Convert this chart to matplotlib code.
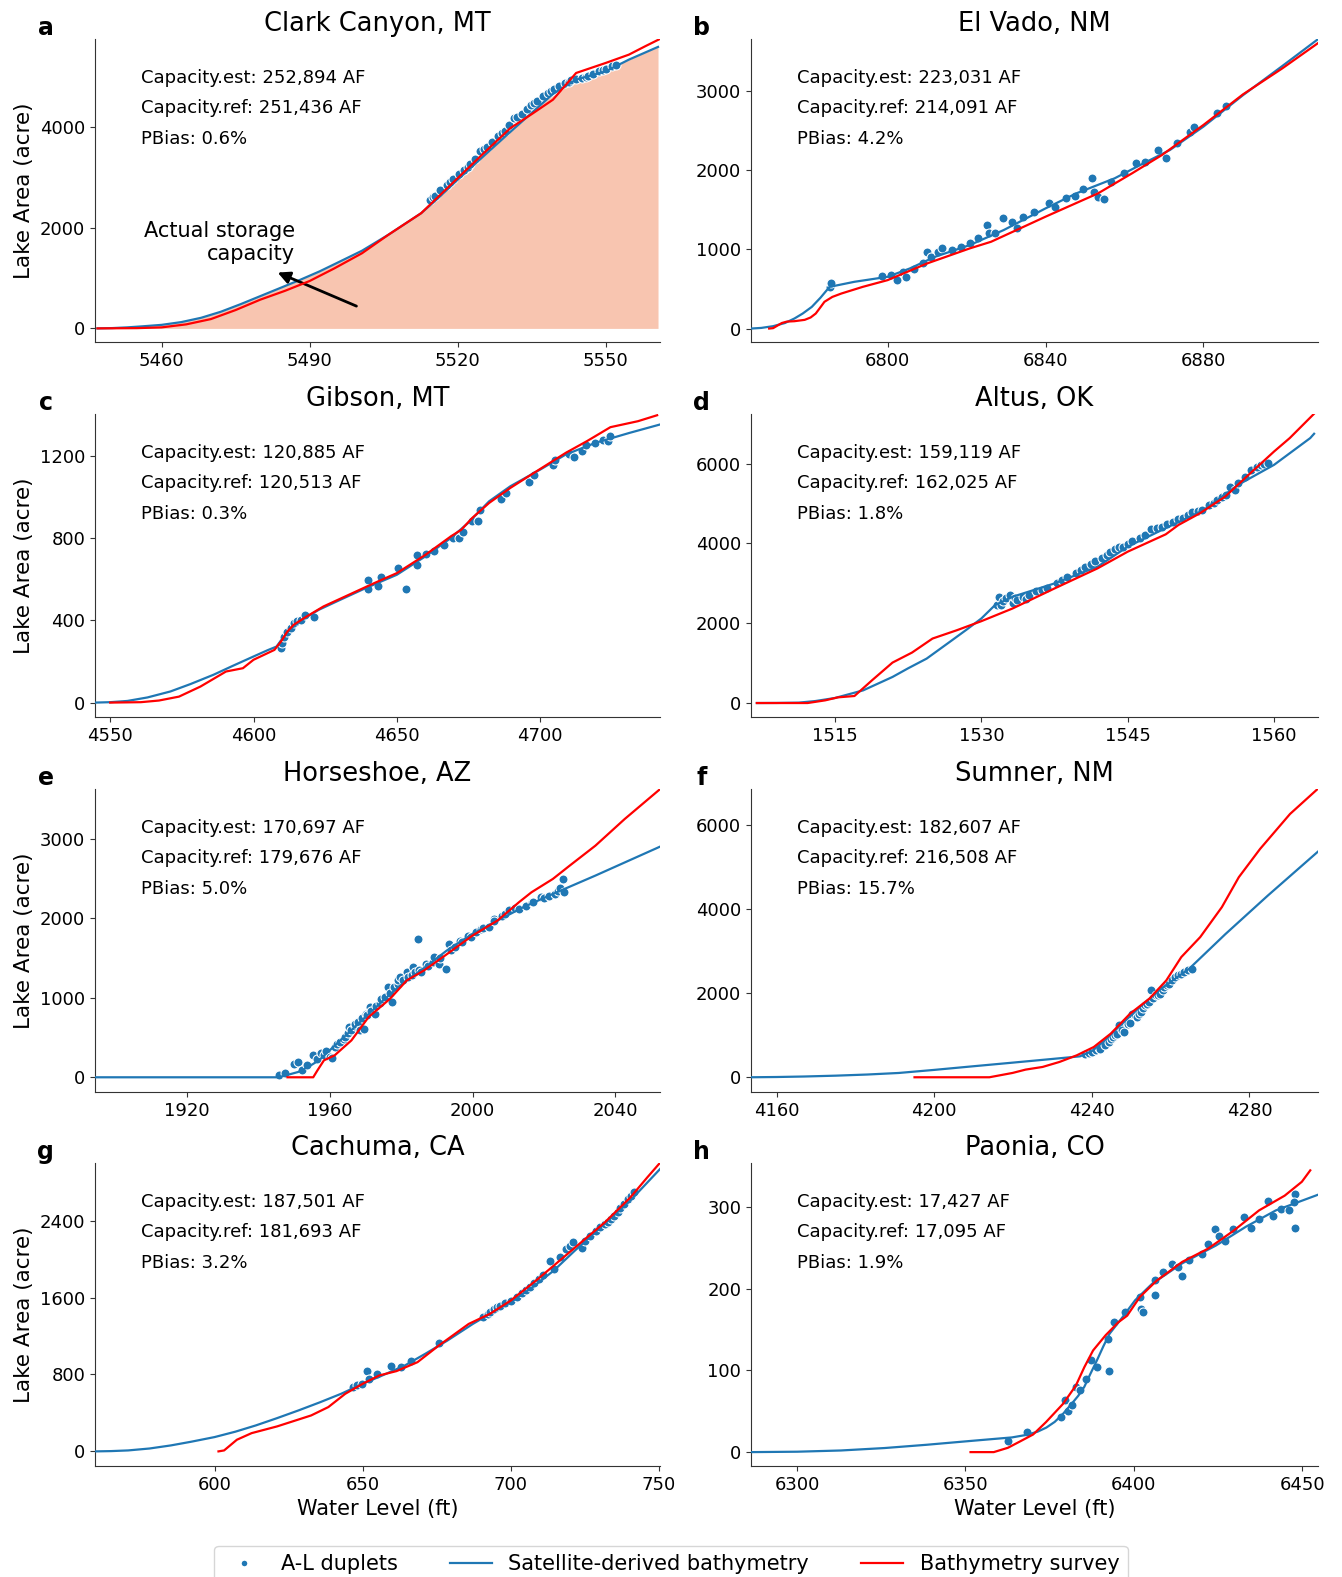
"""Lake area vs water level: satellite-derived bathymetry against survey curves."""

import matplotlib

matplotlib.use("Agg")
import matplotlib.pyplot as plt
from matplotlib.lines import Line2D
from matplotlib.ticker import MultipleLocator

BLUE = "#1f77b4"
RED = "#ff0000"
FILL = "#f8c5b0"

titles = ["Clark Canyon, MT", "El Vado, NM", "Gibson, MT", "Altus, OK",
          "Horseshoe, AZ", "Sumner, NM", "Cachuma, CA", "Paonia, CO"]
letters = ["a", "b", "c", "d", "e", "f", "g", "h"]
cap_est = [252894, 223031, 120885, 159119, 170697, 182607, 187501, 17427]
cap_ref = [251436, 214091, 120513, 162025, 179676, 216508, 181693, 17095]
pbias = [0.6, 4.2, 0.3, 1.8, 5.0, 15.7, 3.2, 1.9]

# --- a: Clark Canyon ---
a_sat_x = [5447, 5450, 5453, 5456, 5460, 5464, 5468, 5472, 5476, 5480, 5484, 5488,
           5492, 5496, 5500.6, 5506, 5512.6, 5516, 5520, 5530.7, 5539.3, 5544, 5550,
           5554.7, 5560.6]
a_sat_y = [0, 6, 20, 40, 70, 125, 210, 330, 480, 640, 800, 960,
           1130, 1320, 1540, 1860, 2285, 2580, 2950, 3900, 4650, 4934, 5099,
           5331, 5583]
a_svy_x = [5447, 5455, 5460, 5465, 5470, 5475, 5480, 5485, 5490, 5495, 5500.6, 5506,
           5512.6, 5520, 5525, 5530.7, 5535, 5539.3, 5544, 5550, 5554.7, 5558, 5561]
a_svy_y = [0, 5, 20, 80, 185, 364, 570, 745, 940, 1190, 1490, 1860,
           2285, 2980, 3450, 3974, 4250, 4536, 5066, 5265, 5430, 5596, 5742]
a_pts_x = [5514.3, 5515, 5515.5, 5516.5, 5517.8, 5518.5, 5519, 5520.2, 5521.2, 5522,
           5522.5, 5523.5, 5524.6, 5525.3, 5526, 5527, 5528.1, 5529, 5529.5, 5530.5,
           5531.5, 5532, 5533, 5534, 5534.9, 5535.5, 5536, 5537.2, 5538.4, 5538.9,
           5539.5, 5540.5, 5541.8, 5542.5, 5543, 5544, 5545.2, 5546, 5546.5, 5547.5,
           5548.7, 5549.5, 5550, 5551.2, 5552]
a_pts_y = [2550, 2600, 2620, 2740, 2848, 2900, 2960, 3060, 3146, 3200,
           3260, 3360, 3510, 3560, 3590, 3700, 3808, 3880, 3920, 4030,
           4172, 4200, 4250, 4350, 4437, 4480, 4520, 4600, 4669, 4700,
           4740, 4800, 4868, 4890, 4920, 4950, 4967, 4990, 5010, 5040,
           5099, 5130, 5150, 5199, 5230]

# --- b: El Vado ---
b_sat_x = [6765.4, 6768, 6771, 6774, 6776.4, 6778.5, 6780.8, 6783, 6785.3, 6791.6,
           6800, 6805.6, 6812, 6820.8, 6829.4, 6840, 6847.8, 6857.5, 6864, 6871.5,
           6880, 6890, 6900, 6909]
b_sat_y = [0, 8, 30, 70, 127, 190, 274, 390, 527, 591,
           654, 759, 907, 1055, 1245, 1519, 1709, 1899, 2068, 2257,
           2553, 2950, 3320, 3658]
b_svy_x = [6770, 6771, 6773.2, 6774.5, 6776.4, 6779, 6780.5, 6781.8, 6783, 6784,
           6786, 6788.3, 6793.7, 6800, 6810, 6820.8, 6826.2, 6840, 6853.3, 6861.9,
           6869.5, 6880, 6890, 6900, 6909]
b_svy_y = [0, 5, 70, 88, 93, 110, 140, 190, 270, 338,
           400, 443, 527, 612, 823, 1013, 1097, 1414, 1709, 1962,
           2194, 2574, 2960, 3290, 3608]
b_pts_x = [6785.3, 6785.6, 6798.6, 6800.8, 6802.4, 6804, 6804.6, 6806.7, 6808.9, 6810,
           6811, 6812.7, 6813.7, 6816.4, 6818.6, 6820.8, 6822.9, 6825.1, 6825.6, 6827.2,
           6829.2, 6831.6, 6832.7, 6834.3, 6837, 6840.9, 6842.5, 6845.2, 6847.4, 6849.5,
           6851.7, 6852.2, 6853.3, 6854.9, 6856.5, 6859.8, 6863, 6865.2, 6868.4, 6870.6,
           6873.3, 6876.5, 6877.6, 6883.5, 6885.7]
b_pts_y = [527, 570, 662, 675, 612, 717, 654, 759, 823, 970,
           907, 970, 1013, 992, 1034, 1076, 1139, 1308, 1203, 1203,
           1392, 1350, 1266, 1414, 1477, 1591, 1540, 1646, 1675, 1759,
           1899, 1730, 1658, 1633, 1857, 1970, 2089, 2110, 2257, 2152,
           2342, 2489, 2553, 2722, 2814]

# --- c: Gibson ---
c_sat_x = [4544.7, 4550, 4556, 4563, 4571, 4578, 4586, 4593, 4600, 4605, 4608, 4610.2,
           4613.2, 4616.9, 4622.8, 4630.2, 4639.1, 4650, 4659.9, 4668.8, 4674.8, 4682.2,
           4689.6, 4700, 4708.9, 4719.3, 4731.1, 4741.8]
c_sat_y = [0, 2, 8, 25, 54, 90, 135, 180, 224, 255, 272, 313,
           361, 402, 451, 499, 556, 621, 710, 799, 872, 978,
           1051, 1132, 1205, 1262, 1310, 1351]
c_svy_x = [4550, 4560.7, 4567, 4574, 4581.5, 4590.4, 4596.3, 4600, 4607.3, 4609.6, 4611.8,
           4614, 4618.5, 4624.4, 4633.3, 4642.2, 4650, 4660, 4668.8, 4672.5, 4676.3,
           4682.2, 4689.6, 4700, 4708.9, 4716.3, 4724.5, 4734.1, 4740.8]
c_svy_y = [0, 2, 10, 29, 78, 151, 167, 208, 256, 297, 345,
           378, 418, 467, 524, 581, 629, 718, 807, 840, 897,
           970, 1043, 1135, 1213, 1270, 1338, 1367, 1396]
c_pts_x = [4609.6, 4609.9, 4610.8, 4611.8, 4613.2, 4614, 4615.2, 4616.5, 4618, 4621,
           4639.8, 4640.1, 4643.5, 4644.5, 4650.3, 4653.2, 4656.9, 4656.9, 4660.3, 4662.8,
           4666.5, 4669.5, 4671.7, 4673.2, 4676.2, 4678.4, 4679.1, 4686.5, 4688, 4696.1,
           4698, 4704.3, 4705, 4710.2, 4711.7, 4714.7, 4715.9, 4719.2, 4721.9, 4723.6,
           4724.4]
c_pts_y = [264, 289, 321, 345, 361, 386, 394, 402, 426, 418,
           597, 553, 564, 608, 653, 553, 670, 718, 722, 738,
           767, 799, 799, 828, 880, 880, 937, 991, 1018, 1072,
           1104, 1156, 1180, 1210, 1192, 1221, 1250, 1262, 1278, 1270,
           1294]

# --- d: Altus ---
d_sat_x = [1507, 1509, 1511.3, 1513, 1515, 1517.9, 1520.9, 1522.5, 1524.4, 1527,
           1528.5, 1530, 1531.4, 1533.2, 1537.5, 1541.9, 1545, 1548.5, 1552.8, 1556.3,
           1560, 1563.7, 1564.1]
d_sat_y = [0, 2, 10, 50, 126, 318, 653, 870, 1113, 1573,
           1840, 2117, 2452, 2661, 2996, 3414, 3916, 4335, 4837, 5464,
           5967, 6636, 6745]
d_svy_x = [1507, 1512.2, 1514, 1515.3, 1517, 1518.8, 1520.9, 1522.9, 1525, 1527.5,
           1530, 1533.2, 1537.5, 1541.9, 1545, 1548.9, 1550.2, 1552.4, 1555, 1557.2,
           1560, 1561.6, 1564.1]
d_svy_y = [0, 0, 67, 142, 176, 569, 1013, 1264, 1615, 1824,
           2050, 2368, 2870, 3372, 3791, 4226, 4460, 4753, 5172, 5674,
           6301, 6636, 7247]
d_pts_x = [1531.6, 1531.8, 1532, 1532.2, 1532.5, 1532.9, 1533.2, 1533.5, 1533.7, 1534.3,
           1534.6, 1534.9, 1535.6, 1536.2, 1536.7, 1537.8, 1538.3, 1538.8, 1539.7, 1540.2,
           1540.6, 1541.2, 1541.7, 1542.4, 1542.9, 1543.2, 1543.7, 1544.1, 1544.5, 1545,
           1545.4, 1546.3, 1546.8, 1547.4, 1548, 1548.5, 1549, 1549.6, 1550.2, 1550.7,
           1551.2, 1551.6, 1552.2, 1552.6, 1553.3, 1553.8, 1554.2, 1554.7, 1555.1, 1555.5,
           1556, 1556.3, 1557, 1557.6, 1558.2, 1558.7, 1559, 1559.4]
d_pts_y = [2452, 2661, 2452, 2560, 2619, 2703, 2494, 2620, 2578, 2661,
           2600, 2703, 2803, 2830, 2870, 2996, 3080, 3163, 3247, 3330,
           3414, 3480, 3556, 3640, 3700, 3774, 3858, 3900, 3916, 3990,
           4058, 4125, 4200, 4360, 4380, 4419, 4480, 4544, 4600, 4644,
           4700, 4795, 4810, 4837, 4962, 5020, 5088, 5150, 5214, 5406,
           5330, 5506, 5650, 5841, 5900, 5967, 5990, 6009]

# --- e: Horseshoe ---
e_sat_x = [1894.3, 1945.2, 1947, 1951.2, 1954, 1957, 1963, 1969, 1975, 1980.9,
           1986.8, 1992.8, 2000, 2007, 2014.2, 2022.5, 2034.4, 2052.5]
e_sat_y = [0, 0, 15, 67, 130, 213, 464, 715, 967, 1197,
           1385, 1594, 1803, 1971, 2138, 2305, 2536, 2900]
e_svy_x = [1948.2, 1955.4, 1956.6, 1958.4, 1961.4, 1966.1, 1970.9, 1976.9, 1981.6, 1986.4,
           1992.3, 2000, 2007, 2013, 2016.5, 2022.5, 2027.2, 2034.4, 2042.6, 2052.5]
e_svy_y = [0, 0, 88, 213, 276, 464, 757, 987, 1218, 1343,
           1531, 1782, 1971, 2201, 2326, 2494, 2661, 2912, 3247, 3623]
e_pts_x = [1945.8, 1947.6, 1950, 1951.2, 1952.3, 1953.6, 1955.3, 1956.5, 1957.5, 1958.3,
           1959, 1960, 1960.6, 1961.5, 1962, 1963, 1964, 1964.2, 1965, 1965.4,
           1966, 1967, 1967.2, 1968, 1968.4, 1969, 1969.6, 1970.2, 1970.5, 1971.4,
           1971.5, 1972.6, 1973, 1974, 1974.4, 1975.5, 1976.2, 1977, 1977.4, 1978,
           1979, 1979.2, 1979.8, 1980.5, 1981.6, 1982, 1983, 1983.4, 1984, 1984.6,
           1985, 1985.7, 1986.9, 1987.5, 1989, 1989.3, 1990.5, 1991, 1992.6, 1993.4,
           1994, 1995.2, 1996.4, 1997, 1998.8, 1999.5, 2001, 2002.3, 2003, 2004.7,
           2005.9, 2006, 2008.3, 2009, 2010.1, 2011.9, 2013, 2014.9, 2016.7, 2017,
           2019.1, 2020, 2021.4, 2023, 2023.8, 2024.5, 2025.3, 2025.6]
e_pts_y = [25, 54, 172, 192, 88, 151, 276, 234, 300, 276,
           330, 255, 247, 380, 420, 443, 480, 506, 560, 632,
           600, 640, 674, 700, 590, 740, 611, 799, 780, 883,
           830, 799, 900, 940, 987, 1010, 1134, 1060, 946, 1130,
           1170, 1218, 1259, 1220, 1322, 1260, 1290, 1385, 1330, 1740,
           1350, 1322, 1427, 1400, 1450, 1510, 1427, 1500, 1364, 1678,
           1600, 1636, 1720, 1700, 1782, 1760, 1830, 1866, 1880, 1887,
           1992, 1960, 2034, 2050, 2105, 2130, 2110, 2159, 2201, 2200,
           2264, 2250, 2284, 2300, 2347, 2380, 2494, 2326]

# --- f: Sumner ---
f_sat_x = [4153.5, 4160, 4167, 4175, 4183, 4191, 4200, 4210, 4220, 4230,
           4237, 4240, 4243, 4246.8, 4252.2, 4257.6, 4264.7, 4273.9, 4284.7, 4297.4]
f_sat_y = [0, 6, 18, 38, 65, 102, 175, 262, 348, 435,
           497, 620, 850, 1194, 1668, 2103, 2577, 3400, 4318, 5360]
f_svy_x = [4195, 4214, 4219.9, 4223.2, 4227.5, 4231.8, 4236.2, 4240.5, 4244.8, 4249.7,
           4254.6, 4258.9, 4262.7, 4267.5, 4273, 4277.3, 4282.7, 4290.3, 4297.3]
f_svy_y = [0, 0, 103, 182, 245, 364, 522, 719, 1036, 1510,
           1866, 2300, 2854, 3328, 4040, 4751, 5423, 6253, 6846]
f_pts_x = [4238.3, 4239.4, 4240, 4241, 4241.8, 4242.2, 4243.3, 4244.3, 4244.8, 4245.4,
           4246, 4246.5, 4247, 4247.7, 4248.2, 4249.2, 4249.7, 4250.3, 4251, 4251.4,
           4252, 4252.5, 4253, 4253.5, 4254, 4254.6, 4255.1, 4255.6, 4256.2, 4256.8,
           4257.3, 4258, 4258.4, 4259, 4259.5, 4260.3, 4261.1, 4261.9, 4262.7, 4263.5,
           4264.3, 4265.4]
f_pts_y = [545, 577, 600, 640, 700, 680, 759, 838, 900, 957,
           1000, 1036, 1233, 1120, 1075, 1257, 1300, 1510, 1480, 1431,
           1500, 1549, 1650, 1708, 1740, 1787, 2063, 1880, 1945, 1960,
           1984, 2080, 2142, 2190, 2221, 2300, 2379, 2420, 2458, 2500,
           2537, 2577]

# --- g: Cachuma ---
g_sat_x = [559.6, 565, 570.8, 578, 585.2, 592, 600, 607, 613.9, 621, 628.3, 635.5,
           642.7, 650, 657, 664.2, 671.4, 678.6, 687.2, 693.5, 700, 707, 714.5, 721.7,
           731.8, 740.4, 750.4]
g_sat_y = [0, 3, 10, 30, 62, 100, 149, 205, 270, 345, 426, 510,
           599, 703, 795, 893, 1020, 1153, 1326, 1440, 1551, 1700, 1880, 2090,
           2370, 2610, 2937]
g_svy_x = [601.3, 603.2, 607.5, 612.5, 621.1, 632.6, 638.4, 644.1, 650, 655.6,
           661.4, 668.5, 675.7, 685.8, 692.9, 700, 708.8, 714.5, 723.1, 731.8,
           740.4, 746.1, 750.2]
g_svy_y = [0, 10, 121, 190, 260, 374, 461, 599, 703, 790,
           835, 928, 1101, 1326, 1430, 1569, 1784, 1932, 2157, 2383,
           2642, 2850, 2995]
g_pts_x = [646.7, 648.1, 649.6, 651.6, 652, 654.9, 659.6, 663.1, 666.4, 675.7,
           690.5, 692.2, 693, 694.4, 695.5, 696.5, 698, 700.1, 702, 703.7,
           705, 706.6, 708, 709.5, 711, 713.1, 714.5, 716.5, 718.8, 720,
           721, 723.9, 725, 726.7, 728.9, 730, 731.8, 732.8, 733.9, 735,
           736.1, 737, 738.2, 739.7, 740.5, 741.5]
g_pts_y = [675, 686, 703, 841, 755, 807, 890, 883, 945, 1125,
           1400, 1430, 1450, 1482, 1500, 1517, 1540, 1569, 1610, 1645,
           1680, 1707, 1750, 1794, 1840, 1984, 1898, 2020, 2105, 2140,
           2175, 2116, 2190, 2244, 2296, 2330, 2366, 2390, 2417, 2450,
           2486, 2530, 2573, 2625, 2660, 2700]

# --- h: Paonia ---
h_sat_x = [6286.3, 6300, 6313, 6326, 6338.5, 6351, 6363.8, 6368, 6371.4, 6374,
           6376.5, 6379, 6381.5, 6383.5, 6385.3, 6387, 6389, 6391, 6392.8, 6396.6,
           6400.4, 6405.4, 6414.3, 6424.4, 6433.3, 6442.2, 6454.6]
h_sat_y = [0, 0.5, 2, 5, 9, 13.5, 18, 21, 25, 30,
           37, 47, 59, 69, 80, 95, 112, 130, 145, 165,
           186, 206, 231, 253, 276, 296, 315]
h_svy_x = [6351.5, 6358.4, 6362.6, 6366.4, 6370.1, 6373.9, 6379, 6382.8, 6385.3, 6387.9,
           6391.6, 6395.4, 6398, 6401.8, 6406.8, 6414.4, 6422, 6429.6, 6437.2, 6444.8,
           6449.9, 6452.4]
h_svy_y = [0, 0, 5.3, 13.5, 21.6, 36.7, 59.2, 81.6, 104, 124.5,
           143, 159, 167, 190, 210, 233, 249, 271, 296, 314,
           331, 345]
h_pts_x = [6362.6, 6368.3, 6378.4, 6379.6, 6380.5, 6381.5, 6382.8, 6384, 6385.9, 6387.2,
           6389, 6392.2, 6392.6, 6394.1, 6397.3, 6401.8, 6402, 6402.8, 6406.2, 6406.2,
           6408.7, 6411.3, 6413.2, 6414.4, 6416.3, 6420.1, 6422, 6424, 6425.2, 6427.1,
           6429.6, 6432.8, 6434.7, 6437.2, 6439.8, 6441.3, 6443.6, 6446.1, 6448, 6448,
           6447.6]
h_pts_y = [13.5, 24.5, 42.9, 64, 50.2, 57.1, 79.6, 75.5, 89.8, 113,
           104, 138.8, 99.2, 159.2, 171.4, 189.8, 175.5, 171.4, 211, 192,
           220, 230, 226.5, 216, 235, 243, 255, 273.5, 265, 259,
           273.5, 287.8, 274, 286, 308, 288.6, 298, 297, 315.5, 274.7,
           306]

panels = [
    (a_sat_x, a_sat_y, a_svy_x, a_svy_y, a_pts_x, a_pts_y),
    (b_sat_x, b_sat_y, b_svy_x, b_svy_y, b_pts_x, b_pts_y),
    (c_sat_x, c_sat_y, c_svy_x, c_svy_y, c_pts_x, c_pts_y),
    (d_sat_x, d_sat_y, d_svy_x, d_svy_y, d_pts_x, d_pts_y),
    (e_sat_x, e_sat_y, e_svy_x, e_svy_y, e_pts_x, e_pts_y),
    (f_sat_x, f_sat_y, f_svy_x, f_svy_y, f_pts_x, f_pts_y),
    (g_sat_x, g_sat_y, g_svy_x, g_svy_y, g_pts_x, g_pts_y),
    (h_sat_x, h_sat_y, h_svy_x, h_svy_y, h_pts_x, h_pts_y),
]
xlims = [(5446.5, 5561), (6765.4, 6909), (4544.7, 4741.8), (1506.4, 1564.5),
         (1894.3, 2052.5), (4153.5, 4297.4), (559.6, 750.4), (6286.3, 6454.7)]
ylims = [(-270, 5740), (-170, 3660), (-70, 1402), (-350, 7240),
         (-185, 3625), (-350, 6846), (-152, 3000), (-17, 354)]
xsteps = [30, 40, 50, 15, 40, 40, 50, 50]
ysteps = [2000, 1000, 400, 2000, 1000, 2000, 800, 100]

W, H = 1342, 1577
col_left = [95, 751]
col_width = [565, 567]
row_bottom = [342, 717, 1092, 1466]
ax_height = 303

fig = plt.figure(figsize=(W / 100, H / 100), dpi=100)

for i, (sx, sy, vx, vy, px, py) in enumerate(panels):
    row, col = divmod(i, 2)
    ax = fig.add_axes([col_left[col] / W, 1 - row_bottom[row] / H,
                       col_width[col] / W, ax_height / H])
    if i == 0:
        ax.fill_between(sx, sy, 0, color=FILL, lw=0, zorder=0)
    ax.scatter(px, py, s=42, color=BLUE, edgecolor="white", linewidth=0.75, zorder=2)
    ax.plot(sx, sy, color=BLUE, lw=1.6, zorder=3)
    ax.plot(vx, vy, color=RED, lw=1.6, zorder=4)
    ax.set_xlim(*xlims[i])
    ax.set_ylim(*ylims[i])
    ax.xaxis.set_major_locator(MultipleLocator(xsteps[i]))
    ax.yaxis.set_major_locator(MultipleLocator(ysteps[i]))
    ax.tick_params(labelsize=13, color="0.2")
    for side in ("top", "right"):
        ax.spines[side].set_visible(False)
    for side in ("left", "bottom"):
        ax.spines[side].set_color("0.2")
    ax.set_title(titles[i], fontsize=18.5)
    ax.text(-0.087, 1.036, letters[i], transform=ax.transAxes, fontsize=17,
            fontweight="bold", ha="center", va="center")
    stats = [f"Capacity.est: {cap_est[i]:,} AF",
             f"Capacity.ref: {cap_ref[i]:,} AF",
             f"PBias: {pbias[i]:.1f}%"]
    for k, line in enumerate(stats):
        ax.text(0.081, 0.871 - 0.1 * k, line, transform=ax.transAxes,
                fontsize=13, va="center", ha="left")
    if col == 0:
        ax.set_ylabel("Lake Area (acre)", fontsize=15.5)
    if row == 3:
        ax.set_xlabel("Water Level (ft)", fontsize=15)
    if i == 0:
        ax.annotate("", xy=(5483, 1130), xytext=(5500, 420),
                    arrowprops=dict(arrowstyle="-|>", color="black", lw=2,
                                    mutation_scale=18))
        ax.text(5487, 1710, "Actual storage\ncapacity", fontsize=15,
                ha="right", va="center", multialignment="right")

handles = [
    Line2D([], [], ls="", marker="o", color=BLUE, markersize=5, markeredgecolor="white"),
    Line2D([], [], color=BLUE, lw=1.6),
    Line2D([], [], color=RED, lw=1.6),
]
fig.legend(handles, ["A-L duplets", "Satellite-derived bathymetry", "Bathymetry survey"],
           loc="upper center", bbox_to_anchor=(0.5, 1 - 1546 / H), ncol=3,
           fontsize=15, borderaxespad=0, columnspacing=2.5)

fig.savefig("out.png", dpi=100)
plt.close(fig)
